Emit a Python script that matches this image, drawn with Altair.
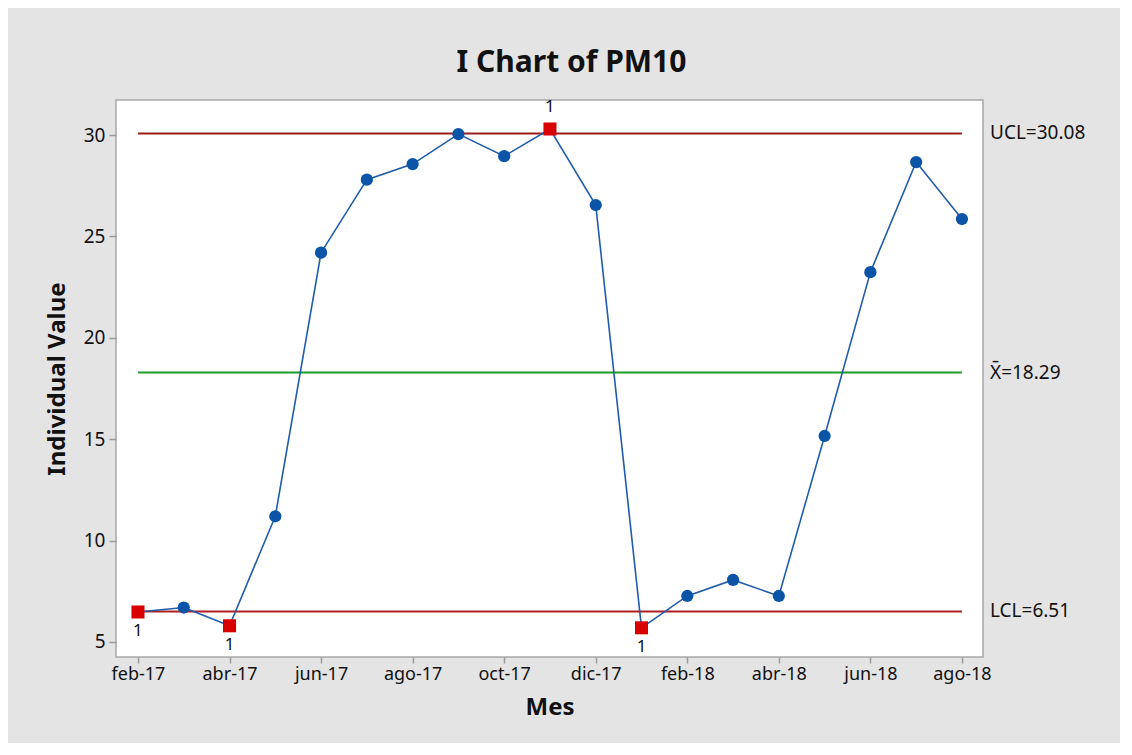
import altair as alt
import pandas as pd

months = ["feb-17", "mar-17", "abr-17", "may-17", "jun-17", "jul-17", "ago-17",
          "sep-17", "oct-17", "nov-17", "dic-17", "ene-18", "feb-18", "mar-18",
          "abr-18", "may-18", "jun-18", "jul-18", "ago-18"]
values = [6.48, 6.7, 5.8, 11.2, 24.2, 27.8, 28.57, 30.05, 28.96, 30.3, 26.55,
          5.7, 7.27, 8.06, 7.27, 15.16, 23.24, 28.67, 25.86]
out_flag = [1, 0, 1, 0, 0, 0, 0, 0, 0, 1, 0, 1, 0, 0, 0, 0, 0, 0, 0]
label_side = ["below", "", "below", "", "", "", "", "", "", "above", "", "below",
              "", "", "", "", "", "", ""]

limit_names = ["UCL=30.08", "X\u0304=18.29", "LCL=6.51"]
limit_values = [30.08, 18.29, 6.51]
limit_colors = ["#9c1c1c", "#1e9a2a", "#b01e1e"]

df = pd.DataFrame({"i": list(range(len(months))), "month": months, "v": values,
                   "out": out_flag, "side": label_side})
lim = pd.DataFrame({"name": limit_names, "v": limit_values, "color": limit_colors,
                    "x0": [0] * 3, "x1": [len(months) - 1] * 3})

FONT = "Noto Sans"
W, H = 867, 557

label_js = "[" + ",".join("'%s'" % m for m in months) + "][datum.value]"

xscale = alt.Scale(domain=[-0.48, 18.46], nice=False, zero=False)
yscale = alt.Scale(domain=[4.26, 31.73], nice=False, zero=False)

xaxis = alt.Axis(values=list(range(0, 19, 2)), labelExpr=label_js, title="Mes",
                 grid=False, domain=False, tickColor="#9a9a9a", tickSize=6,
                 tickWidth=1.5, labelFontSize=18, labelColor="#111111",
                 labelPadding=2, titleFontSize=24, titleFontWeight="bold",
                 titleColor="#111111", titlePadding=12, labelFont=FONT, titleFont=FONT)
yaxis = alt.Axis(values=[5, 10, 15, 20, 25, 30], title="Individual Value",
                 grid=False, domain=False, tickColor="#9a9a9a", tickSize=7,
                 tickWidth=1.5, labelFontSize=19, labelColor="#111111",
                 labelPadding=4, titleFontSize=24, titleFontWeight="bold",
                 titleColor="#111111", titlePadding=14, labelFont=FONT, titleFont=FONT)

base = alt.Chart(df)

rules = alt.Chart(lim).mark_rule(strokeWidth=2).encode(
    x=alt.X("x0:Q", scale=xscale, axis=xaxis),
    x2="x1:Q",
    y=alt.Y("v:Q", scale=yscale, axis=yaxis),
    color=alt.Color("color:N", scale=None),
)

lim_text = alt.Chart(lim).mark_text(align="left", baseline="middle", fontSize=19,
                                    font=FONT, color="#111111").encode(
    x=alt.value(W + 7),
    y=alt.Y("v:Q", scale=yscale),
    text="name:N",
)

line = base.mark_line(color="#1f5cab", strokeWidth=1.6).encode(
    x=alt.X("i:Q", scale=xscale),
    y=alt.Y("v:Q", scale=yscale),
)

pts = base.transform_filter("datum.out == 0").mark_point(
    shape="circle", filled=True, size=150, color="#0b54a8", opacity=1).encode(
    x=alt.X("i:Q", scale=xscale),
    y=alt.Y("v:Q", scale=yscale),
)

sq = base.transform_filter("datum.out == 1").mark_point(
    shape="square", filled=True, size=170, color="#d90000", opacity=1).encode(
    x=alt.X("i:Q", scale=xscale),
    y=alt.Y("v:Q", scale=yscale),
)

below = base.transform_filter("datum.side == 'below'").mark_text(
    dy=19, fontSize=17, font=FONT, color="#111111").encode(
    x=alt.X("i:Q", scale=xscale),
    y=alt.Y("v:Q", scale=yscale),
    text=alt.value("1"),
)
above = base.transform_filter("datum.side == 'above'").mark_text(
    dy=-22, fontSize=17, font=FONT, color="#111111").encode(
    x=alt.X("i:Q", scale=xscale),
    y=alt.Y("v:Q", scale=yscale),
    text=alt.value("1"),
)

chart = alt.layer(rules, lim_text, line, pts, sq, below, above).properties(
    width=W, height=H,
    title=alt.Title("I Chart of PM10", fontSize=30, fontWeight="bold", font=FONT,
                    color="#111111", anchor="middle", offset=20, dx=22),
    autosize=alt.AutoSizeParams(type="none"),
    padding={"left": 108, "top": 92, "right": 137, "bottom": 86},
    background="#e4e4e4",
).configure_view(stroke="#a8a8a8", strokeWidth=1.5, fill="white")

chart.save("out.html", embed_options={"renderer": "svg", "actions": False})
